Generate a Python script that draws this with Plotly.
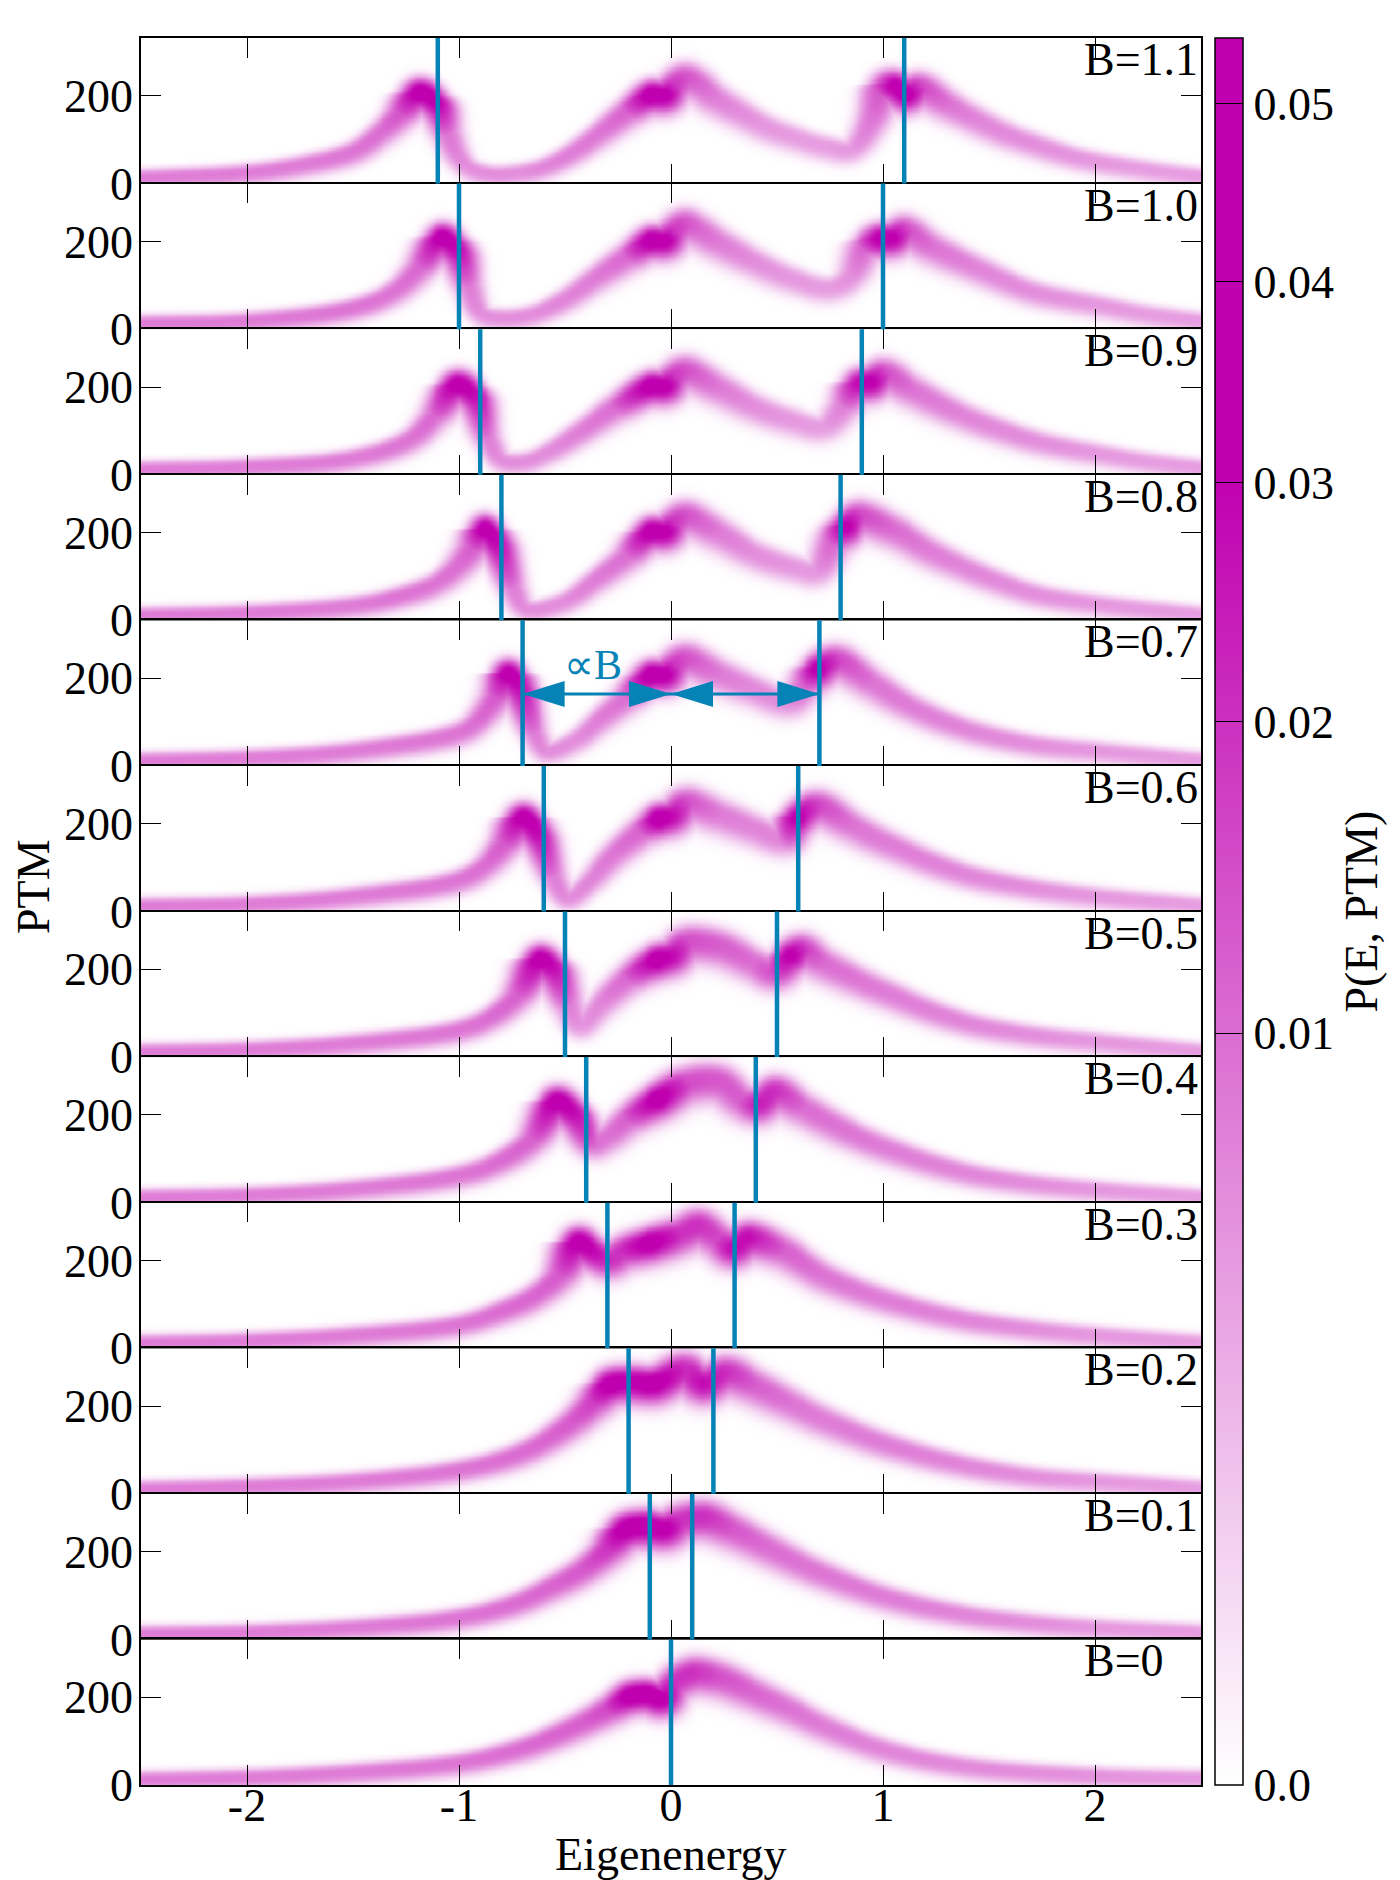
import numpy as np
import plotly.graph_objects as go
from plotly.subplots import make_subplots

# field values, top panel first
B_VALUES = [1.1, 1.0, 0.9, 0.8, 0.7, 0.6, 0.5, 0.4, 0.3, 0.2, 0.1, 0.0]

# ridge of P(E, PTM): energy, PTM at band centre, density at band centre
e_11 = [-2.5, -2.0, -1.73, -1.5, -1.37, -1.27, -1.19, -1.11, -1.06, -1.01, -0.95, -0.85, -0.72, -0.59, -0.46, -0.33, -0.2, -0.1, -0.03, 0.0, 0.06, 0.13, 0.2, 0.33, 0.46, 0.59, 0.72, 0.85, 0.95, 1.0, 1.05, 1.11, 1.17, 1.31, 1.44, 1.57, 1.7, 1.86, 2.0, 2.19, 2.35, 2.5]
ptm_11 = [15, 27, 46, 76, 122, 168, 210, 187, 122, 69, 38, 24, 27, 42, 76, 122, 172, 205, 206, 222, 242, 230, 202, 164, 130, 107, 88, 82, 153, 222, 226, 208, 222, 183, 149, 118, 95, 69, 53, 38, 27, 19]
p_11 = [.008, .008, .008, .009, .010, .014, .036, .032, .009, .007, .006, .006, .006, .007, .008, .009, .012, .036, .033, .020, .014, .011, .008, .006, .005, .0045, .0045, .005, .009, .015, .032, .034, .016, .009, .007, .0065, .006, .0055, .005, .0045, .0045, .0045]

e_10 = [-2.5, -2.0, -1.5, -1.31, -1.18, -1.08, -1.01, -0.96, -0.9, -0.8, -0.66, -0.52, -0.36, -0.2, -0.1, -0.03, 0.0, 0.06, 0.12, 0.23, 0.39, 0.56, 0.75, 0.85, 0.92, 0.98, 1.04, 1.1, 1.24, 1.44, 1.7, 2.0, 2.25, 2.5]
ptm_10 = [15, 21, 51, 89, 150, 211, 181, 105, 40, 28, 36, 66, 120, 173, 205, 206, 222, 242, 232, 200, 158, 120, 97, 127, 196, 210, 212, 228, 189, 143, 89, 59, 36, 21]
p_10 = [.008, .008, .009, .009, .011, .036, .028, .008, .006, .006, .006, .007, .008, .011, .036, .033, .020, .014, .011, .008, .006, .005, .0045, .006, .012, .032, .032, .015, .009, .007, .006, .005, .0045, .0045]

e_09 = [-2.5, -2.0, -1.5, -1.24, -1.11, -1.01, -0.93, -0.87, -0.8, -0.7, -0.59, -0.42, -0.26, -0.1, -0.03, 0.0, 0.065, 0.23, 0.39, 0.56, 0.72, 0.82, 0.88, 0.94, 1.0, 1.14, 1.37, 1.7, 2.0, 2.25, 2.5]
ptm_09 = [14, 20, 40, 82, 144, 208, 182, 90, 37, 32, 52, 105, 159, 205, 206, 222, 239, 201, 159, 128, 113, 166, 210, 215, 233, 197, 140, 82, 52, 32, 18]
p_09 = [.008, .008, .008, .009, .011, .036, .028, .008, .006, .006, .006, .008, .010, .036, .033, .020, .014, .008, .006, .005, .0045, .008, .028, .032, .015, .009, .007, .006, .005, .0045, .0045]

e_08 = [-2.5, -2.0, -1.5, -1.3, -1.11, -1.0, -0.93, -0.88, -0.82, -0.75, -0.69, -0.52, -0.36, -0.2, -0.1, -0.03, 0.0, 0.065, 0.23, 0.39, 0.59, 0.69, 0.77, 0.82, 0.88, 1.05, 1.21, 1.37, 1.7, 2.0, 2.5]
ptm_08 = [13, 19, 36, 55, 88, 132, 175, 210, 175, 80, 30, 42, 95, 156, 205, 206, 222, 240, 202, 156, 122, 115, 187, 216, 240, 210, 164, 126, 65, 40, 15]
p_08 = [.008, .008, .008, .009, .009, .010, .013, .036, .028, .008, .006, .006, .008, .010, .036, .033, .020, .014, .008, .006, .005, .005, .012, .032, .016, .010, .008, .007, .006, .005, .0045]

e_07 = [-2.5, -2.0, -1.5, -1.0, -0.92, -0.82, -0.77, -0.72, -0.65, -0.59, -0.46, -0.33, -0.2, -0.1, -0.03, 0.0, 0.065, 0.23, 0.39, 0.56, 0.64, 0.69, 0.78, 0.95, 1.11, 1.37, 1.7, 2.0, 2.5]
ptm_07 = [14, 20, 37, 79, 105, 166, 212, 182, 82, 37, 60, 113, 166, 210, 212, 228, 247, 212, 178, 151, 195, 224, 243, 193, 144, 90, 52, 37, 15]
p_07 = [.008, .008, .008, .009, .010, .013, .036, .028, .008, .006, .006, .008, .010, .036, .033, .020, .014, .008, .0065, .006, .012, .032, .016, .009, .008, .007, .006, .005, .0045]

e_06 = [-2.5, -2.0, -1.5, -1.0, -0.88, -0.78, -0.7, -0.63, -0.56, -0.49, -0.39, -0.26, -0.13, -0.06, 0.0, 0.065, 0.23, 0.39, 0.54, 0.59, 0.69, 0.85, 1.0, 1.37, 1.7, 2.0, 2.5]
ptm_06 = [14, 19, 37, 75, 109, 163, 216, 178, 86, 33, 71, 140, 193, 215, 222, 250, 224, 193, 170, 216, 243, 201, 163, 90, 56, 37, 16]
p_06 = [.008, .008, .008, .009, .010, .013, .036, .028, .008, .006, .007, .009, .012, .036, .028, .014, .008, .007, .007, .032, .016, .009, .008, .007, .006, .005, .0045]

e_05 = [-2.5, -2.0, -1.5, -1.0, -0.85, -0.72, -0.62, -0.56, -0.49, -0.43, -0.33, -0.2, -0.07, 0.0, 0.065, 0.23, 0.39, 0.49, 0.56, 0.62, 0.72, 1.0, 1.37, 1.7, 2.0, 2.5]
ptm_05 = [14, 19, 34, 65, 95, 149, 225, 206, 126, 75, 126, 187, 225, 235, 263, 256, 218, 198, 235, 248, 218, 153, 84, 53, 38, 15]
p_05 = [.008, .008, .008, .009, .010, .012, .036, .028, .008, .005, .007, .011, .036, .028, .015, .012, .010, .015, .032, .018, .010, .008, .007, .006, .005, .0045]

e_04 = [-2.5, -2.0, -1.5, -1.0, -0.82, -0.65, -0.54, -0.46, -0.37, -0.3, -0.2, -0.065, 0.065, 0.23, 0.34, 0.41, 0.49, 0.62, 0.82, 1.0, 1.37, 1.7, 2.0, 2.5]
ptm_04 = [14, 19, 34, 65, 95, 153, 233, 206, 140, 155, 198, 240, 275, 279, 237, 229, 256, 221, 168, 130, 73, 46, 32, 15]
p_04 = [.008, .008, .008, .009, .010, .012, .036, .028, .010, .009, .012, .036, .015, .013, .012, .024, .020, .010, .009, .008, .007, .006, .005, .0045]

e_03 = [-2.5, -2.0, -1.5, -1.0, -0.82, -0.65, -0.52, -0.44, -0.36, -0.29, -0.23, -0.1, 0.03, 0.13, 0.23, 0.29, 0.36, 0.52, 0.72, 1.0, 1.37, 1.7, 2.0, 2.5]
ptm_03 = [14, 19, 32, 57, 84, 122, 176, 244, 221, 206, 225, 244, 263, 282, 252, 233, 255, 229, 168, 115, 69, 46, 32, 15]
p_03 = [.008, .008, .008, .009, .010, .011, .013, .036, .028, .020, .020, .036, .020, .020, .015, .028, .028, .012, .009, .008, .007, .006, .005, .0045]

e_02 = [-2.5, -2.0, -1.5, -1.0, -0.75, -0.59, -0.46, -0.36, -0.29, -0.2, -0.08, 0.065, 0.15, 0.26, 0.39, 0.56, 0.72, 1.0, 1.37, 1.7, 2.0, 2.5]
ptm_02 = [13, 19, 31, 57, 88, 126, 172, 218, 252, 258, 256, 286, 256, 279, 252, 210, 172, 118, 69, 42, 31, 15]
p_02 = [.008, .008, .008, .009, .010, .011, .013, .018, .036, .032, .036, .020, .028, .020, .012, .009, .008, .008, .007, .006, .005, .0045]

e_01 = [-2.5, -2.0, -1.5, -1.0, -0.75, -0.59, -0.42, -0.29, -0.22, -0.13, -0.03, 0.03, 0.16, 0.29, 0.46, 0.65, 1.0, 1.37, 1.7, 2.0, 2.5]
ptm_01 = [14, 18, 29, 52, 82, 117, 163, 216, 254, 262, 256, 272, 281, 254, 212, 166, 101, 60, 40, 29, 18]
p_01 = [.008, .008, .008, .009, .010, .011, .013, .020, .036, .036, .033, .020, .020, .013, .010, .009, .008, .007, .006, .005, .0045]

e_00 = [-2.5, -2.0, -1.5, -1.0, -0.75, -0.59, -0.42, -0.29, -0.2, -0.11, -0.04, 0.0, 0.1, 0.23, 0.39, 0.56, 0.72, 1.0, 1.37, 2.0, 2.5]
ptm_00 = [14, 19, 31, 53, 80, 107, 145, 179, 206, 210, 200, 232, 258, 248, 214, 176, 137, 84, 46, 23, 17]
p_00 = [.008, .008, .008, .009, .010, .011, .012, .016, .036, .038, .033, .020, .020, .014, .011, .009, .008, .007, .0065, .0055, .005]

RIDGES = [(e_11, ptm_11, p_11), (e_10, ptm_10, p_10), (e_09, ptm_09, p_09),
          (e_08, ptm_08, p_08), (e_07, ptm_07, p_07), (e_06, ptm_06, p_06),
          (e_05, ptm_05, p_05), (e_04, ptm_04, p_04), (e_03, ptm_03, p_03),
          (e_02, ptm_02, p_02), (e_01, ptm_01, p_01), (e_00, ptm_00, p_00)]

CB_TICKS = [0.0, 0.01, 0.02, 0.03, 0.04, 0.05]
CB_LABELS = ["0.0", "0.01", "0.02", "0.03", "0.04", "0.05"]
P_MAX = 0.054
X_TICKS = [-2, -1, 0, 1, 2]
X_LABELS = ["-2", "-1", "0", "1", "2"]
Y_TICKS = [0, 200]
ARROW_B = 0.7
ARROW_PTM = 164

E_MIN, E_MAX, PTM_MAX = -2.5, 2.5, 332
PX_W, PX_H = 1062.0, 145.6

FONT = "Liberation Serif, Times New Roman, serif"
FS = 46
BLUE = "#0582b6"

grid_e = np.linspace(E_MIN, E_MAX, 361)
grid_ptm = np.linspace(0, PTM_MAX, 121)
GX, GY = np.meshgrid((grid_e - E_MIN) / (E_MAX - E_MIN) * PX_W, grid_ptm / PTM_MAX * PX_H)


def smooth_ridge(pts, amp):
    # centripetal catmull-rom through the read nodes, in pixel space
    P = np.vstack([2 * pts[0] - pts[1], pts, 2 * pts[-1] - pts[-2]])
    A = np.concatenate([[amp[0]], amp, [amp[-1]]])
    xs, ys, aa = [], [], []
    for i in range(1, len(P) - 2):
        p0, p1, p2, p3 = P[i - 1], P[i], P[i + 1], P[i + 2]
        t0 = 0.0
        t1 = t0 + np.linalg.norm(p1 - p0) ** 0.5
        t2 = t1 + np.linalg.norm(p2 - p1) ** 0.5
        t3 = t2 + np.linalg.norm(p3 - p2) ** 0.5
        n = max(8, int(np.linalg.norm(p2 - p1) / 1.2))
        t = np.linspace(t1, t2, n, endpoint=False)[:, None]
        a1 = (t1 - t) / (t1 - t0) * p0 + (t - t0) / (t1 - t0) * p1
        a2 = (t2 - t) / (t2 - t1) * p1 + (t - t1) / (t2 - t1) * p2
        a3 = (t3 - t) / (t3 - t2) * p2 + (t - t2) / (t3 - t2) * p3
        b1 = (t2 - t) / (t2 - t0) * a1 + (t - t0) / (t2 - t0) * a2
        b2 = (t3 - t) / (t3 - t1) * a2 + (t - t1) / (t3 - t1) * a3
        c = (t2 - t) / (t2 - t1) * b1 + (t - t1) / (t2 - t1) * b2
        f = ((t - t1) / (t2 - t1))[:, 0]
        xs.append(c[:, 0]); ys.append(c[:, 1])
        aa.append(A[i] + (A[i + 1] - A[i]) * f)
    xs.append([pts[-1, 0]]); ys.append([pts[-1, 1]]); aa.append([amp[-1]])
    return np.concatenate(xs), np.concatenate(ys), np.concatenate(aa)


def density(e, ptm, p):
    pts = np.column_stack([(np.array(e) - E_MIN) / (E_MAX - E_MIN) * PX_W,
                           np.array(ptm) / PTM_MAX * PX_H])
    cx, cy, ca = smooth_ridge(pts, np.array(p, dtype=float))
    # carry the band a little past both frame edges
    d0 = pts[0] - pts[1]; d0 /= np.linalg.norm(d0)
    d1 = pts[-1] - pts[-2]; d1 /= np.linalg.norm(d1)
    s = np.arange(2, 30, 2.0)
    cx = np.concatenate([pts[0, 0] + d0[0] * s[::-1], cx, pts[-1, 0] + d1[0] * s])
    cy = np.concatenate([pts[0, 1] + d0[1] * s[::-1], cy, pts[-1, 1] + d1[1] * s])
    ca = np.concatenate([np.full(len(s), ca[0]), ca, np.full(len(s), ca[-1])])
    sig = 4.6 + 0.018 * cy / PX_H * PTM_MAX
    z = np.zeros_like(GX)
    for k in range(0, len(cx), 48):
        dx = GX[None] - cx[k:k + 48, None, None]
        dy = GY[None] - cy[k:k + 48, None, None]
        # the band fades more slowly towards low PTM than towards high PTM
        sg = sig[k:k + 48, None, None] * np.where(dy < 0, 1.4, 1.0)
        r = np.sqrt(dx * dx + dy * dy) / sg
        g = ca[k:k + 48, None, None] * np.exp(-0.5 * r ** 2.5)
        z = np.maximum(z, g.max(axis=0))
    return z


n = len(B_VALUES)
fig = make_subplots(rows=n, cols=1, shared_xaxes=True, vertical_spacing=0)

for i, (b, (e, ptm, p)) in enumerate(zip(B_VALUES, RIDGES)):
    row = i + 1
    z = density(e, ptm, p)
    fig.add_trace(go.Heatmap(x=grid_e, y=grid_ptm, z=np.sqrt(z), coloraxis="coloraxis",
                             zsmooth="best", hoverinfo="skip"), row=row, col=1)
    for xv in sorted({-b, b}):
        fig.add_vline(x=xv, line=dict(color=BLUE, width=4.5), row=row, col=1)
    label = "B=0" if b == 0 else f"B={b:.1f}"
    ax = "" if row == 1 else str(row)
    fig.add_annotation(x=1.95, y=1, xref=f"x{ax}", yref=f"y{ax} domain", text=label,
                       showarrow=False, xanchor="left", yanchor="top", xshift=-2, yshift=6,
                       font=dict(family=FONT, size=FS, color="black"))
    fig.update_yaxes(range=[0, PTM_MAX], tickvals=Y_TICKS, ticktext=[str(v) for v in Y_TICKS],
                     ticks="inside", ticklen=20, tickwidth=1, tickcolor="black", mirror="ticks",
                     showline=True, linecolor="black", linewidth=1.5, showgrid=False,
                     zeroline=False, ticklabelstandoff=-3,
                     tickfont=dict(family=FONT, size=FS, color="black"),
                     row=row, col=1)
    fig.update_xaxes(range=[E_MIN, E_MAX], tickvals=X_TICKS, ticktext=X_LABELS,
                     ticks="inside", ticklen=20, tickwidth=1, tickcolor="black", mirror="ticks",
                     showline=True, linecolor="black", linewidth=1.5, showgrid=False,
                     zeroline=False, showticklabels=(row == n), ticklabelstandoff=-21,
                     tickfont=dict(family=FONT, size=FS, color="black"), row=row, col=1)

# the proportional-to-B arrows in the B=0.7 panel
arow = B_VALUES.index(ARROW_B) + 1
xr, yr = f"x{arow}", f"y{arow}"
for xa, xb in [(-ARROW_B, 0), (0, ARROW_B)]:
    fig.add_shape(type="line", x0=xa, x1=xb, y0=ARROW_PTM, y1=ARROW_PTM, xref=xr, yref=yr,
                  line=dict(color=BLUE, width=3))
    fig.add_shape(type="path", xref=xr, yref=yr, xsizemode="pixel", ysizemode="pixel",
                  xanchor=xa, yanchor=ARROW_PTM, path="M0,0 L42,13 L42,-13 Z",
                  fillcolor=BLUE, line=dict(width=0))
    fig.add_shape(type="path", xref=xr, yref=yr, xsizemode="pixel", ysizemode="pixel",
                  xanchor=xb, yanchor=ARROW_PTM, path="M0,0 L-42,13 L-42,-13 Z",
                  fillcolor=BLUE, line=dict(width=0))
fig.add_annotation(x=-0.37, y=230, xref=xr, yref=yr, text="∝B", showarrow=False,
                   font=dict(family=FONT, size=42, color=BLUE))

fig.add_annotation(x=0.5, y=0, xref="paper", yref="paper", yshift=-69, text="Eigenenergy",
                   showarrow=False, yanchor="middle", font=dict(family=FONT, size=FS, color="black"))
fig.add_annotation(x=0, y=0.514, xref="paper", yref="paper", xshift=-108, text="PTM",
                   textangle=-90, showarrow=False, xanchor="center", yanchor="middle",
                   font=dict(family=FONT, size=FS, color="black"))

# the page body adds an 8px margin, so the figure is 8px smaller than the window
fig.update_layout(
    width=1392, height=1872,
    margin=dict(l=133, r=197, t=30, b=95),
    paper_bgcolor="white", plot_bgcolor="white",
    showlegend=False,
    coloraxis=dict(
        cmin=0, cmax=np.sqrt(P_MAX),
        colorscale=[[0, "#ffffff"], [0.75, "#c000b0"], [1, "#c000b0"]],
        colorbar=dict(
            x=1.0132, xanchor="left", xpad=0, y=0.5, yanchor="middle", ypad=0,
            len=1, lenmode="fraction", thickness=28,
            outlinewidth=1.5, outlinecolor="black",
            ticks="inside", ticklen=28, tickwidth=1, tickcolor="black",
            tickvals=[np.sqrt(v) for v in CB_TICKS], ticktext=CB_LABELS,
            tickfont=dict(family=FONT, size=FS, color="black"),
            title=dict(text="P(E, PTM)", side="right", font=dict(family=FONT, size=FS, color="black")),
        ),
    ),
)

fig.write_html("out.html")
